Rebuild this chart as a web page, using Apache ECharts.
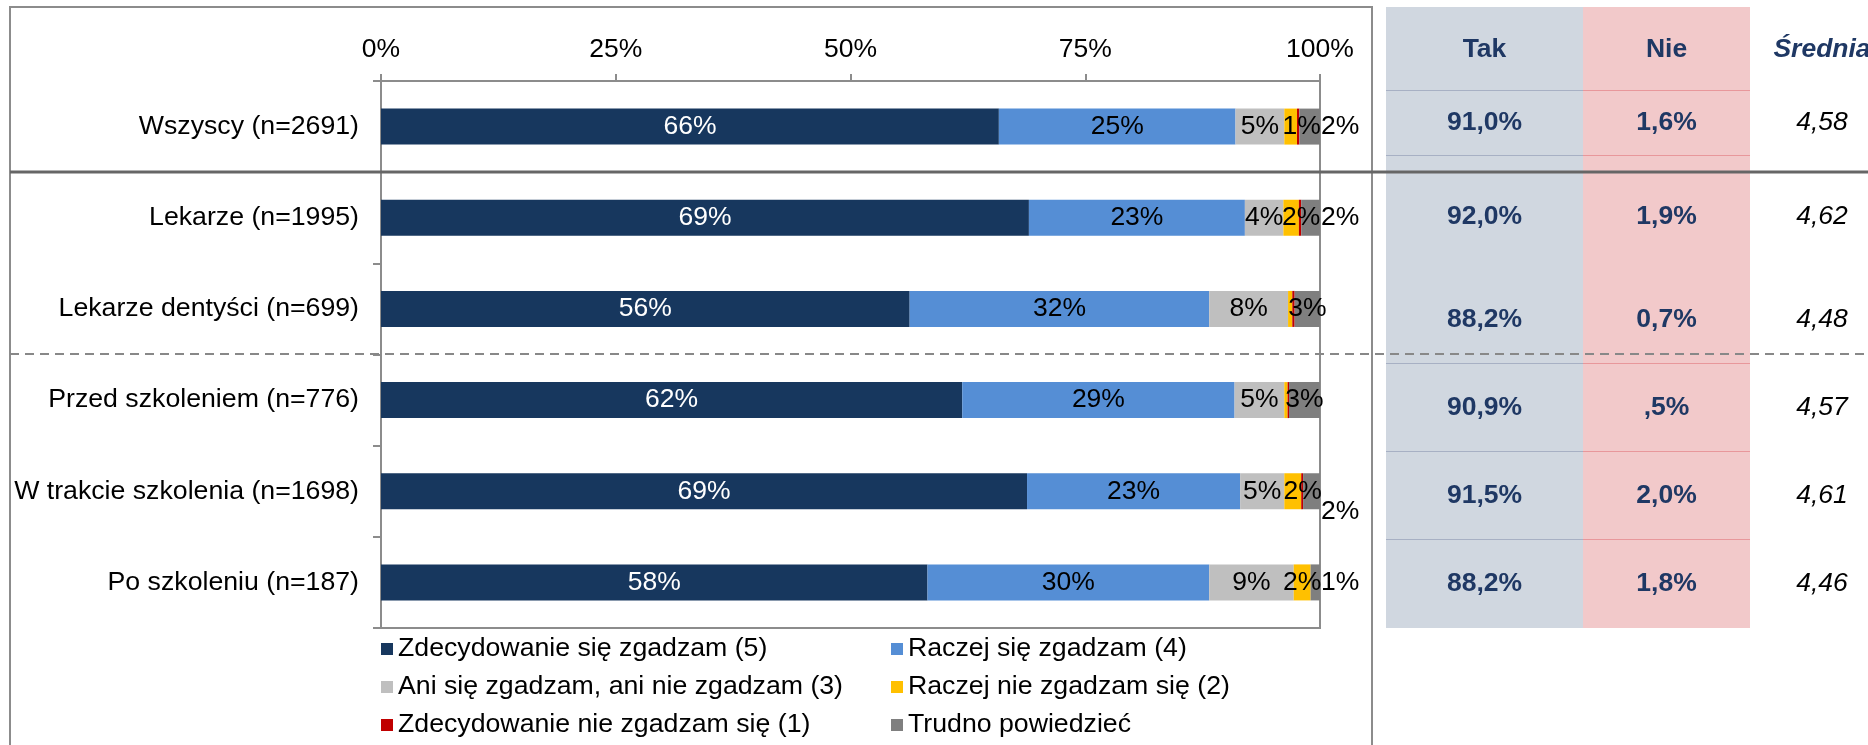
<!DOCTYPE html>
<html>
<head>
<meta charset="utf-8">
<script src="https://cdn.jsdelivr.net/npm/echarts/dist/echarts.min.js"></script>
<style>
  html, body { margin: 0; padding: 0; background: #fff; }
  #chart { width: 1868px; height: 745px; }
</style>
</head>
<body>
<div id="chart"></div>
<script>
// kategorie (oś Y)
const categories = [
  "Wszyscy (n=2691)",
  "Lekarze (n=1995)",
  "Lekarze dentyści (n=699)",
  "Przed szkoleniem (n=776)",
  "W trakcie szkolenia (n=1698)",
  "Po szkoleniu (n=187)"
];
const seriesNames = [
  "Zdecydowanie się zgadzam (5)",
  "Raczej się zgadzam (4)",
  "Ani się zgadzam, ani nie zgadzam (3)",
  "Raczej nie zgadzam się (2)",
  "Zdecydowanie nie zgadzam się (1)",
  "Trudno powiedzieć"
];
// wartości w %
const zdecydowanieTak = [65.8, 69.0, 56.3, 61.9, 68.8, 58.2];
const raczejTak = [25.2, 23.0, 31.9, 29.0, 22.7, 30.0];
const aniAni = [5.2, 4.1, 8.4, 5.3, 4.7, 9.0];
const raczejNie = [1.35, 1.65, 0.45, 0.35, 1.8, 1.8];
const zdecydowanieNie = [0.25, 0.25, 0.25, 0.15, 0.2, 0];
const trudno = [2.2, 2.0, 2.7, 3.3, 1.8, 1.0];

// tabela po prawej
const tableHeaders = ["Tak", "Nie", "Średnia"];
const takValues = ["91,0%", "92,0%", "88,2%", "90,9%", "91,5%", "88,2%"];
const nieValues = ["1,6%", "1,9%", "0,7%", ",5%", "2,0%", "1,8%"];
const sredniaValues = ["4,58", "4,62", "4,48", "4,57", "4,61", "4,46"];

const font = "Liberation Sans, Arial, sans-serif";
const navy = "#1F3864";
const colors = ["#17375E", "#558ED5", "#BFBFBF", "#FFC000", "#C00000", "#7F7F7F"];
const allValues = [zdecydowanieTak, raczejTak, aniAni, raczejNie, zdecydowanieNie, trudno];

// przesunięcia etykiet (jak w oryginale z Excela)
const labelNudge = {
  3: { 0: [11, 0], 1: [10, 0], 4: [10, 0] },
  5: { 4: [0, 20] }
};

const series = allValues.map(function (arr, s) {
  return {
    name: seriesNames[s],
    type: "bar",
    stack: "total",
    barWidth: 36,
    itemStyle: { color: colors[s] },
    label: {
      show: true,
      position: "inside",
      color: s === 0 ? "#fff" : "#000",
      fontSize: 26.5,
      fontFamily: font,
      formatter: function (p) {
        const r = Math.round(p.value);
        return r ? r + "%" : "";
      }
    },
    data: arr.map(function (v, i) {
      const item = { value: v };
      if (s === 5 && v < 2.5) {
        item.label = { position: "right", distance: 1 };
      }
      const nudge = (labelNudge[s] || {})[i];
      if (nudge) {
        item.label = Object.assign(item.label || {}, { offset: nudge });
      }
      return item;
    })
  };
});

// tabela - układ
const takX = [1386, 1583], nieX = [1583, 1750], sredniaCx = 1822;
const tableTop = 7, tableBottom = 628;
const tableLinesY = [90, 155, 363, 451, 539];
const headerY = 50;
const rowY = [123, 217, 320, 408, 496, 584];

const graphic = [];
graphic.push({
  type: "rect", z: 0,
  shape: { x: takX[0], y: tableTop, width: takX[1] - takX[0], height: tableBottom - tableTop },
  style: { fill: "#D0D7E0" }
});
graphic.push({
  type: "rect", z: 0,
  shape: { x: nieX[0], y: tableTop, width: nieX[1] - nieX[0], height: tableBottom - tableTop },
  style: { fill: "#F2C9CA" }
});
tableLinesY.forEach(function (y) {
  graphic.push({ type: "line", z: 1, shape: { x1: takX[0], y1: y + 0.5, x2: takX[1], y2: y + 0.5 },
    style: { stroke: "#A7B0C4", lineWidth: 1 } });
  graphic.push({ type: "line", z: 1, shape: { x1: nieX[0], y1: y + 0.5, x2: nieX[1], y2: y + 0.5 },
    style: { stroke: "#E8979B", lineWidth: 1 } });
});
// ramka
graphic.push({
  type: "rect", z: 2,
  shape: { x: 10, y: 7, width: 1362, height: 780 },
  style: { fill: "none", stroke: "#8C8C8C", lineWidth: 2 }
});
// separatory
graphic.push({ type: "line", z: 3, shape: { x1: 10, y1: 172, x2: 1868, y2: 172 },
  style: { stroke: "#666", lineWidth: 3 } });
graphic.push({ type: "line", z: 3, shape: { x1: 10, y1: 354, x2: 1868, y2: 354 },
  style: { stroke: "#888", lineWidth: 2, lineDash: [9, 6] } });

function cellText(txt, x, y, bold, italic, color) {
  return {
    type: "text", z: 4,
    style: {
      text: txt, x: x, y: y,
      textAlign: "center", textVerticalAlign: "middle",
      align: "center", verticalAlign: "middle",
      font: (italic ? "italic " : "") + (bold ? "bold " : "") + "26.5px " + font,
      fill: color
    }
  };
}
const takCx = (takX[0] + takX[1]) / 2, nieCx = (nieX[0] + nieX[1]) / 2;
graphic.push(cellText(tableHeaders[0], takCx, headerY, true, false, navy));
graphic.push(cellText(tableHeaders[1], nieCx, headerY, true, false, navy));
graphic.push(cellText(tableHeaders[2], sredniaCx, headerY, true, true, navy));
rowY.forEach(function (y, i) {
  graphic.push(cellText(takValues[i], takCx, y, true, false, navy));
  graphic.push(cellText(nieValues[i], nieCx, y, true, false, navy));
  graphic.push(cellText(sredniaValues[i], sredniaCx, y, false, true, "#000"));
});

const legendBase = {
  orient: "vertical",
  top: 634,
  padding: 0,
  icon: "rect",
  itemWidth: 12,
  itemHeight: 12,
  itemGap: 8,
  selectedMode: false,
  textStyle: { fontSize: 26.7, color: "#000", fontFamily: font, lineHeight: 30 }
};

const chart = echarts.init(document.getElementById("chart"));
const option = {
  animation: false,
  textStyle: { fontFamily: font },
  grid: {
    left: 381, right: 548, top: 81, bottom: 117,
    show: true, borderColor: "#8C8C8C", borderWidth: 2
  },
  xAxis: {
    type: "value",
    position: "top",
    min: 0, max: 100, interval: 25,
    axisLine: { show: true, lineStyle: { color: "#8C8C8C", width: 2 } },
    axisTick: { show: true, length: 7, lineStyle: { color: "#8C8C8C", width: 2 } },
    axisLabel: { formatter: "{value}%", fontSize: 26.5, color: "#000", margin: 18, fontFamily: font },
    splitLine: { show: false }
  },
  yAxis: {
    type: "category",
    inverse: true,
    data: categories,
    axisLine: { show: true, lineStyle: { color: "#8C8C8C", width: 2 } },
    axisTick: { show: true, length: 8, lineStyle: { color: "#8C8C8C", width: 2 } },
    axisLabel: { fontSize: 26.7, color: "#000", margin: 22, fontFamily: font }
  },
  legend: [
    Object.assign({}, legendBase, { left: 381, data: [seriesNames[0], seriesNames[2], seriesNames[4]] }),
    Object.assign({}, legendBase, { left: 891, data: [seriesNames[1], seriesNames[3], seriesNames[5]] })
  ],
  color: colors,
  graphic: graphic,
  series: series
};
chart.setOption(option);
</script>
</body>
</html>
